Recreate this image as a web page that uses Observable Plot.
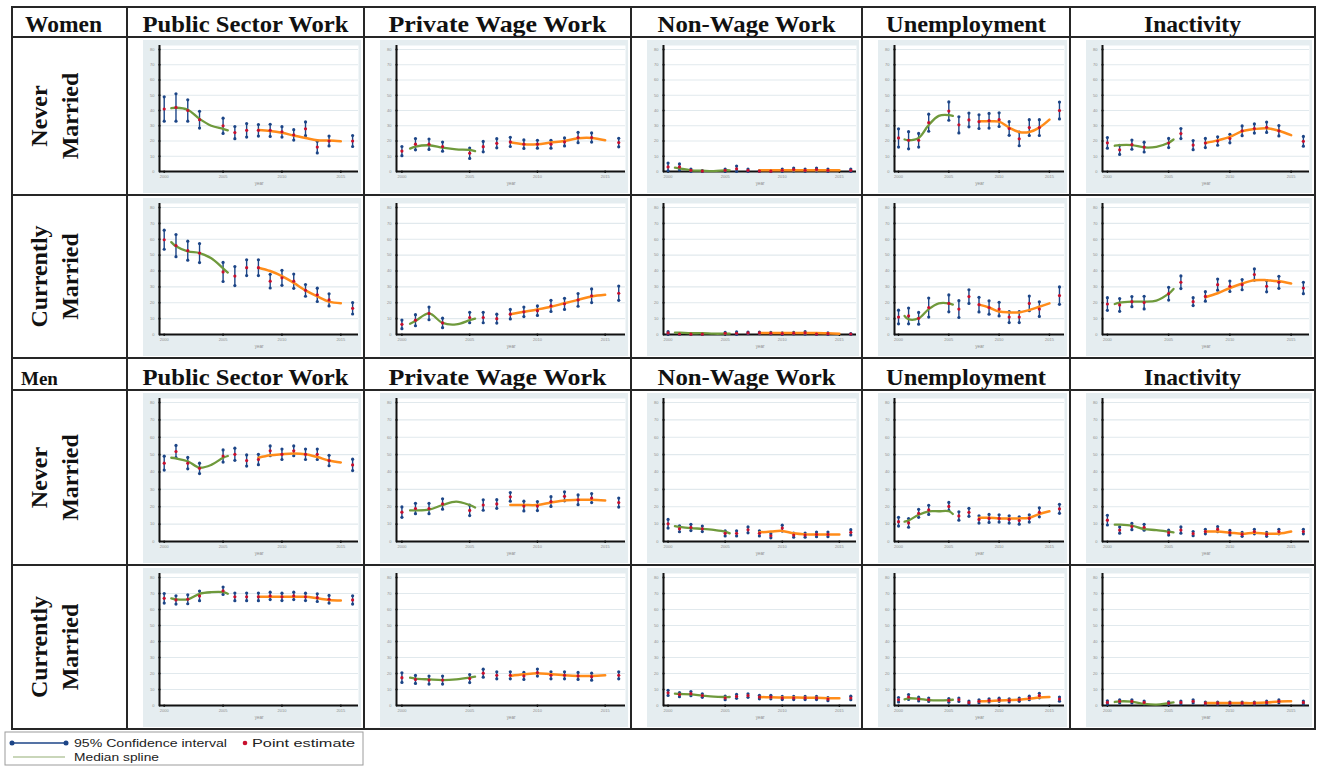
<!DOCTYPE html>
<html>
<head>
<meta charset="utf-8">
<script src="https://cdn.jsdelivr.net/npm/d3@7"></script>
<script src="https://cdn.jsdelivr.net/npm/@observablehq/plot@0.6"></script>
<style>
  body { margin: 0; background: #fff; }
  #page { position: relative; width: 1322px; height: 767px; overflow: hidden; background: #fff; }
  .panel { position: absolute; background: #e5edf0; }
  .panel svg { display: block; }
  #overlay { position: absolute; left: 0; top: 0; pointer-events: none; }
</style>
</head>
<body>
<div id="page"></div>
<script>
// ---- labels ----
const groups = ["Women", "Men"];
const outcomes = ["Public Sector Work", "Private Wage Work", "Non-Wage Work", "Unemployment", "Inactivity"];
const statuses = [["Never", "Married"], ["Currently", "Married"]];
const legendLabels = ["95% Confidence interval", "Point estimate", "Median spline"];

// ---- axes ----
const yTicks = [0, 10, 20, 30, 40, 50, 60, 70, 80];
const xTicks = [2000, 2005, 2010, 2015];
const years = [2000, 2001, 2002, 2003, 2005, 2006, 2007, 2008, 2009, 2010, 2011, 2012, 2013, 2014, 2016];
const greenYears = [2000.6, 2001, 2002, 2003, 2004, 2005, 2005.4];
const orangeYears = [2008, 2009, 2010, 2011, 2012, 2013, 2014, 2015];

// ---- Women, never married (rows: public, private, non-wage, unemployment, inactivity) ----
const estWomenNever = [
  [41, 42, 40, 34, 30, 25.5, 27, 27, 27, 26, 24, 28, 16, 20, 20],
  [13.4, 17.9, 17.9, 16.3, 12, 16.3, 18.5, 19.4, 17.9, 17.9, 17.9, 19.4, 22.3, 22.3, 19],
  [3, 3, 0.8, 0.3, 0.8, 1.8, 0.8, 0.3, 0.2, 0.8, 1.3, 0.8, 1.3, 0.8, 0.8],
  [22, 20.5, 20.5, 32, 39.6, 30.6, 33.8, 32.7, 33.3, 34, 28.2, 21.4, 28.8, 28.8, 40],
  [18.8, 14.2, 17.6, 16, 18.7, 24.9, 17.3, 18.7, 20, 21.6, 26.7, 28.2, 29, 26.7, 19.8]
];
const halfWomenNever = [
  [8, 9, 7, 5.5, 5, 4, 4.4, 3.8, 4, 3.4, 3.4, 4.5, 3.8, 3.2, 3.6],
  [3, 3.7, 3.4, 3, 3.4, 3.4, 3, 3, 2.8, 2.6, 2.6, 2.6, 3.4, 3, 2.8],
  [2.5, 2, 0.8, 0.3, 0.8, 1.8, 0.8, 0.3, 0.2, 0.8, 1, 0.8, 1, 0.8, 0.8],
  [6, 5.6, 4.5, 5.6, 6, 5.3, 4.5, 4.5, 4.8, 4.5, 4.5, 4.5, 5.2, 5.2, 5.5],
  [3.5, 3, 3, 3.2, 3, 3.3, 3, 3, 2.8, 2.8, 3.2, 3, 3.4, 3.4, 3.2]
];
const greenWomenNever = [
  [41.5, 41.8, 40.5, 34.5, 30, 28, 27],
  [15, 16.3, 17.2, 15.6, 14.5, 14.2, 13.4],
  [2.5, 2, 0.8, 0.5, 0.3, 0.8, 0.8],
  [21, 20.5, 22, 30.5, 36.5, 37, 36.5],
  [16.9, 17.3, 17.3, 15.8, 16.2, 18.9, 21]
];
const orangeWomenNever = [
  [27.2, 26.6, 25.4, 23.6, 22, 20.5, 20.3, 19.8],
  [19.2, 17.9, 17.9, 19, 20, 21.8, 22, 20.5],
  [0.8, 0.8, 0.8, 0.8, 0.8, 0.8, 0.8, 0.8],
  [32.9, 32.9, 32.7, 28.8, 25.9, 25.9, 28.8, 34],
  [18.7, 20.4, 22.7, 26.4, 27.8, 28.4, 26.7, 23.8]
];

// ---- Women, currently married ----
const estWomenMarried = [
  [59.7, 56, 52.8, 51.3, 39.4, 36.8, 42.1, 42.1, 33.6, 35.7, 33.6, 27.8, 25, 21.8, 16.5],
  [6.4, 9, 13.3, 7.3, 10.7, 10.7, 10, 12.8, 14.3, 15, 18, 19.3, 21.8, 24.4, 26],
  [1, 0.3, 0.2, 0.2, 0.8, 0.8, 1, 1, 0.8, 0.5, 0.8, 1, 0.3, 0.5, 0.3],
  [11, 11.7, 10.2, 17, 19.6, 16, 23.9, 18.8, 17, 16, 11, 11, 19.6, 16, 24.5],
  [19.2, 18.6, 20.7, 20.1, 25.7, 32.9, 20.7, 24, 31.4, 30.4, 31.4, 37.8, 30.4, 32.9, 29.3]
];
const halfWomenMarried = [
  [6, 7, 6, 6, 6, 6, 5, 5, 4.3, 4.7, 4.5, 3.7, 4.2, 3.8, 3.6],
  [2.7, 3.5, 4, 3, 3.3, 3.3, 2.8, 3, 3, 3, 3.5, 3.5, 4, 4.3, 4.5],
  [0.8, 0.3, 0.2, 0.2, 0.5, 0.8, 0.5, 0.5, 0.5, 0.5, 0.5, 0.8, 0.3, 0.5, 0.3],
  [4.3, 5, 3.7, 6, 5.3, 5.3, 4.3, 4.6, 4.2, 4.3, 3.5, 3.5, 4.6, 4.6, 5.5],
  [4, 4, 3.2, 4, 4, 4, 2.5, 3, 3.5, 3.3, 3.2, 3.5, 3.5, 3.8, 3.6]
];
const greenWomenMarried = [
  [58.2, 55.6, 52.4, 51.3, 48, 41.7, 39],
  [6.8, 8.5, 13.3, 7.3, 6.4, 9, 10],
  [1.2, 1.2, 0.8, 0.8, 0.5, 0.5, 0.5],
  [11.7, 9.6, 10.2, 16, 19.6, 19.6, 18.8],
  [19.2, 20.1, 20.7, 20.7, 21.4, 25.7, 28.7]
];
const orangeWomenMarried = [
  [42.1, 40, 36.8, 32.5, 27.8, 24, 20.7, 19.7],
  [12.8, 14.3, 15.8, 17.5, 19.7, 21.8, 24, 25],
  [1, 1, 1, 1, 1, 1, 0.8, 0.5],
  [18.8, 17, 14.5, 13.9, 13.9, 15.4, 17.5, 19.6],
  [23.5, 26, 29.3, 32.1, 34.2, 34.2, 33.5, 32.1]
];

// ---- Men, never married ----
const estMenNever = [
  [45.1, 51.8, 45.1, 42.1, 49.2, 50.2, 46.6, 47.2, 52.2, 50.2, 52.2, 50.2, 50.2, 46.6, 44.1],
  [16.9, 19, 19, 21.6, 17.9, 21, 21.6, 25.7, 20.4, 20.4, 23, 26, 24, 25, 22.4],
  [10.2, 7.3, 8.1, 7.3, 4.7, 4.7, 6.7, 4.7, 3.3, 7.7, 3.7, 3.7, 4.1, 4.1, 5.3],
  [11.4, 10.7, 16.2, 18.2, 20.2, 14.7, 16.8, 12.7, 13.3, 13.3, 12.7, 12.1, 13.3, 16.8, 18.8],
  [12.3, 6.6, 8.6, 8.2, 5.1, 6.6, 4.5, 5.7, 7.1, 5.1, 4.1, 5.7, 4.1, 5.7, 5.7]
];
const halfMenNever = [
  [4, 3.5, 3.3, 3, 3.5, 3.5, 3.2, 3, 2.8, 3, 2.8, 3, 3, 3, 3.3],
  [3, 3, 3, 3, 3, 3, 2.5, 2.5, 2.8, 2.6, 2.8, 2.6, 2.8, 2.6, 2.6],
  [2.5, 1.7, 1.8, 1.6, 1.5, 1.5, 1.7, 1.5, 1.2, 1.7, 1.2, 1.2, 1.3, 1.3, 1.5],
  [2.5, 2.5, 2.3, 2.6, 2.3, 2.4, 2.3, 2.1, 2.3, 2.1, 2.1, 2.1, 2.1, 2.6, 2.6],
  [2.8, 1.8, 1.8, 1.7, 1.4, 1.8, 1.2, 1.3, 1.5, 1.3, 1.1, 1.3, 1.1, 1.3, 1.3]
];
const greenMenNever = [
  [48.2, 47.8, 46.2, 42.5, 44.1, 48.2, 49.2],
  [17.9, 17.9, 18.3, 21, 23, 21, 19.6],
  [8.8, 8.4, 7.7, 7.3, 6.7, 5.7, 4.7],
  [11.4, 12.1, 15.4, 17.4, 17.4, 17.4, 15.8],
  [9.7, 9.7, 9.1, 7.1, 6.6, 5.7, 5.3]
];
const orangeMenNever = [
  [48.2, 49.6, 50.2, 50.6, 50.2, 48.6, 46.6, 45.5],
  [21, 21, 21, 22.4, 23.6, 24, 24, 23.6],
  [5.3, 5.7, 6.1, 4.7, 4.1, 4.1, 4.1, 4.1],
  [13.7, 13.7, 13.3, 13.3, 13.3, 13.7, 15.8, 17.4],
  [5.7, 5.7, 5.1, 4.5, 5.1, 4.5, 4.5, 5.7]
];

// ---- Men, currently married ----
const estMenMarried = [
  [67, 66, 66.4, 68.5, 71.7, 67.9, 67.9, 67.9, 68.5, 67.9, 68.5, 67.9, 67.4, 66.4, 66],
  [17.4, 16.3, 15.9, 15.9, 16.8, 20.2, 18.9, 18.9, 18.5, 20.6, 18.9, 18.9, 18.5, 18, 18.9],
  [7.9, 6.8, 7.4, 6.2, 4.7, 5.7, 6.2, 5.3, 5.3, 4.7, 4.7, 4.7, 4.7, 4, 4.7],
  [3.6, 5.3, 4, 3.6, 3.2, 3.6, 1.9, 2.6, 3.2, 3.6, 3.2, 3.6, 4.7, 6.2, 4],
  [1.9, 2.6, 2.6, 1.9, 1.5, 1.9, 2.6, 1.5, 1.5, 1.5, 1.5, 1.5, 1.9, 2.6, 1.9]
];
const halfMenMarried = [
  [3, 2.6, 2.8, 3, 2.3, 2.4, 2.4, 2.4, 2.3, 2.3, 2.3, 2.3, 2.4, 2.4, 2.6],
  [3, 2.5, 2.5, 2.5, 2.5, 2.5, 2.2, 2.2, 2.2, 2.2, 2.2, 2.2, 2.2, 2.2, 2.2],
  [1.6, 1.3, 1.3, 1.1, 1.1, 1.2, 1.1, 1.1, 1.1, 1, 1, 1, 1, 1, 1.1],
  [1.4, 1.5, 1.2, 1.1, 1.1, 1.1, 0.9, 1, 1, 1, 1, 1, 1.1, 1.4, 1.3],
  [1, 1, 1, 0.9, 0.8, 0.9, 1, 0.7, 0.7, 0.7, 0.7, 0.7, 0.8, 0.9, 0.9]
];
const greenMenMarried = [
  [67, 66.4, 66.4, 69.8, 70.8, 70.8, 69.8],
  [17.4, 16.8, 16.3, 15.9, 16.3, 17.4, 18],
  [7.4, 7.2, 7, 6.2, 5.5, 5.3, 5.3],
  [3.8, 4.5, 4.2, 3.4, 3.2, 3.4, 3.6],
  [2.2, 2.6, 2.4, 1, 0.5, 1.5, 1.9]
];
const orangeMenMarried = [
  [67.9, 67.9, 67.9, 67.9, 67.9, 67, 66, 65.7],
  [18.5, 19.5, 20.2, 19.5, 18.9, 18.5, 18.5, 18.9],
  [5.3, 5.1, 5, 5, 4.9, 4.8, 4.6, 4.5],
  [2.6, 2.8, 3.2, 3.4, 3.6, 4.2, 5, 5.3],
  [1.5, 1.5, 1.5, 1.5, 1.5, 1.8, 2.5, 2.6]
];

// ---- table layout ----
const colEdges = [12, 127, 364, 631, 862, 1070, 1315];
const rowEdges = [7, 37, 195, 358, 390, 565, 729];
// rendered widths of the heading words, per column
const headWidths = [206, 218, 178, 160, 97];
const navy = "#1c4587";
const red = "#c8102e";
const green = "#6f9a3c";
const orange = "#ff8c1a";
const gridColor = "#e1e9ed";
const serif = "'Liberation Serif', 'Times New Roman', serif";
const sans = "'Liberation Sans', Arial, sans-serif";
const xStart = 1999.6, xEnd = 2016.5;

const page = document.getElementById("page");

function panel(est, half, greenVals, orangeVals, w, h) {
  const pts = years.map((year, i) => ({year, est: est[i], lo: est[i] - half[i], hi: est[i] + half[i]}));
  const g = greenYears.map((year, i) => ({year, v: greenVals[i]}));
  const o = orangeYears.map((year, i) => ({year, v: orangeVals[i]}));
  return Plot.plot({
    width: w,
    height: h,
    marginLeft: 16,
    marginRight: 3,
    marginTop: 5,
    marginBottom: 22,
    style: {background: "transparent", fontFamily: sans, overflow: "visible"},
    x: {domain: [xStart, xEnd]},
    y: {domain: [0, 80], insetTop: 4},
    marks: [
      Plot.frame({fill: "white", stroke: "none"}),
      Plot.gridY(yTicks.slice(1), {stroke: gridColor, strokeOpacity: 1, strokeWidth: 1.2}),
      Plot.axisY({ticks: yTicks, tickSize: 0, tickPadding: 5, fontSize: 4, fill: "#8d8d8d", label: null}),
      Plot.axisX({ticks: xTicks, tickSize: 2, tickPadding: 2, fontSize: 4, fill: "#8d8d8d", stroke: "#111", tickFormat: d => `${d}`, label: null}),
      Plot.text(["year"], {frameAnchor: "bottom", dy: 13, fontSize: 4.5, fill: "#8d8d8d"}),
      Plot.ruleX([xStart], {stroke: "#111", strokeWidth: 2}),
      Plot.ruleY([0], {stroke: "#111", strokeWidth: 2}),
      Plot.dot(yTicks, {x: () => xStart, y: d => d, r: 1.1, fill: "#111"}),
      Plot.dot(xTicks, {x: d => d, y: () => 0, r: 1.1, fill: "#111"}),
      Plot.ruleX(pts, {x: "year", y1: "lo", y2: "hi", stroke: navy, strokeWidth: 1.4}),
      Plot.dot(pts, {x: "year", y: "lo", r: 1.6, fill: navy}),
      Plot.dot(pts, {x: "year", y: "hi", r: 1.6, fill: navy}),
      Plot.line(g, {x: "year", y: "v", curve: "catmull-rom", stroke: green, strokeWidth: 2.3}),
      Plot.line(o, {x: "year", y: "v", curve: "catmull-rom", stroke: orange, strokeWidth: 2.5}),
      Plot.dot(pts, {x: "year", y: "est", r: 1.6, fill: red})
    ]
  });
}

const panelRows = [
  {row: 1, est: estWomenNever, half: halfWomenNever, green: greenWomenNever, orange: orangeWomenNever},
  {row: 2, est: estWomenMarried, half: halfWomenMarried, green: greenWomenMarried, orange: orangeWomenMarried},
  {row: 4, est: estMenNever, half: halfMenNever, green: greenMenNever, orange: orangeMenNever},
  {row: 5, est: estMenMarried, half: halfMenMarried, green: greenMenMarried, orange: orangeMenMarried}
];

panelRows.forEach(pr => {
  outcomes.forEach((_, c) => {
    const x0 = colEdges[c + 1] + 16;
    const w = colEdges[c + 2] - colEdges[c + 1] - 19;
    const y0 = rowEdges[pr.row] + 3;
    const h = rowEdges[pr.row + 1] - rowEdges[pr.row] - 5;
    const div = document.createElement("div");
    div.className = "panel";
    div.style.left = x0 + "px";
    div.style.top = y0 + "px";
    div.style.width = w + "px";
    div.style.height = h + "px";
    div.appendChild(panel(pr.est[c], pr.half[c], pr.green[c], pr.orange[c], w, h));
    page.appendChild(div);
  });
});

// ---- table rules, headings and legend ----
const svg = d3.select(page).append("svg")
  .attr("id", "overlay")
  .attr("width", 1322)
  .attr("height", 767);

const tableTop = rowEdges[0], tableBottom = rowEdges[rowEdges.length - 1];
colEdges.forEach(x => {
  svg.append("line").attr("x1", x).attr("x2", x).attr("y1", tableTop - 1).attr("y2", tableBottom + 1)
    .attr("stroke", "#262626").attr("stroke-width", 2);
});
rowEdges.forEach(y => {
  svg.append("line").attr("x1", colEdges[0] - 1).attr("x2", colEdges[colEdges.length - 1] + 1).attr("y1", y).attr("y2", y)
    .attr("stroke", "#262626").attr("stroke-width", 2);
});

// group header rows
[[0, 0], [3, 1]].forEach(([r, gi]) => {
  const base = rowEdges[r + 1] - 5;
  const gText = svg.append("text").attr("x", gi === 0 ? 25 : 21).attr("y", base)
    .attr("font-family", serif).attr("font-weight", "bold").attr("font-size", gi === 0 ? 24 : 19)
    .attr("fill", "#111").text(groups[gi]);
  if (gi === 0) gText.attr("textLength", 77).attr("lengthAdjust", "spacingAndGlyphs");
  outcomes.forEach((o, c) => {
    const cx = (colEdges[c + 1] + colEdges[c + 2]) / 2;
    svg.append("text").attr("x", cx - headWidths[c] / 2).attr("y", base)
      .attr("font-family", serif).attr("font-weight", "bold").attr("font-size", 24)
      .attr("textLength", headWidths[c]).attr("lengthAdjust", "spacingAndGlyphs")
      .attr("fill", "#111").text(o);
  });
});

// marital status labels, rotated
[1, 2, 4, 5].forEach((r, i) => {
  const lines = statuses[i % 2];
  const cy = (rowEdges[r] + rowEdges[r + 1]) / 2;
  lines.forEach((t, k) => {
    const bx = 47 + k * 31;
    svg.append("text")
      .attr("transform", `translate(${bx},${cy}) rotate(-90)`)
      .attr("text-anchor", "middle")
      .attr("font-family", serif).attr("font-weight", "bold").attr("font-size", 24)
      .attr("fill", "#111").text(t);
  });
});

// legend
const lg = svg.append("g");
lg.append("rect").attr("x", 5).attr("y", 732).attr("width", 358).attr("height", 33)
  .attr("fill", "white").attr("stroke", "#9c9c9c").attr("stroke-width", 1);
lg.append("line").attr("x1", 12).attr("x2", 66).attr("y1", 743).attr("y2", 743).attr("stroke", navy).attr("stroke-width", 1.4);
[12, 66].forEach(x => lg.append("circle").attr("cx", x).attr("cy", 743).attr("r", 2.5).attr("fill", navy));
lg.append("text").attr("x", 74).attr("y", 747).attr("font-family", sans).attr("font-size", 11.5)
  .attr("textLength", 153).attr("lengthAdjust", "spacingAndGlyphs").attr("fill", "#222").text(legendLabels[0]);
lg.append("circle").attr("cx", 245).attr("cy", 743).attr("r", 2.3).attr("fill", red);
lg.append("text").attr("x", 252).attr("y", 747).attr("font-family", sans).attr("font-size", 11.5)
  .attr("textLength", 103).attr("lengthAdjust", "spacingAndGlyphs").attr("fill", "#222").text(legendLabels[1]);
lg.append("line").attr("x1", 13).attr("x2", 65).attr("y1", 757).attr("y2", 757).attr("stroke", "#94ad74").attr("stroke-width", 1.2);
lg.append("text").attr("x", 74).attr("y", 761).attr("font-family", sans).attr("font-size", 11.5)
  .attr("textLength", 85).attr("lengthAdjust", "spacingAndGlyphs").attr("fill", "#222").text(legendLabels[2]);
</script>
</body>
</html>
